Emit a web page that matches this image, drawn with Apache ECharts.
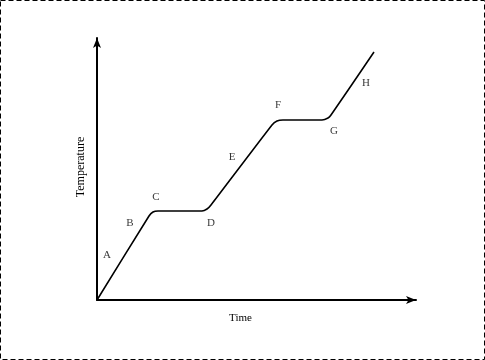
<!DOCTYPE html>
<html><head><meta charset="utf-8">
<script src="https://cdn.jsdelivr.net/npm/echarts@6/dist/echarts.min.js"></script>
<style>html,body{margin:0;padding:0;background:#fff}#c{width:485px;height:360px}</style>
</head><body><div id="c"></div>
<script>
// Heating curve: time vs temperature (arbitrary units)
var timeValues = [0, 52, 56, 61, 105, 110, 114, 175, 180, 186, 225, 231, 234, 277];
var tempValues = [0, 84, 88, 89, 89, 91, 95, 175, 179, 180, 180, 182, 185, 248];
var labelNames = ['A', 'B', 'C', 'D', 'E', 'F', 'G', 'H'];
var labelTime  = [10, 33, 59, 114, 135, 181, 237, 269];
var labelTemp  = [45, 77, 103, 77, 143, 195, 169, 217];
var xName = 'Time', yName = 'Temperature';

var chart = echarts.init(document.getElementById('c'), null, {renderer: 'canvas'});
var curve = timeValues.map(function (t, i) { return [t, tempValues[i]]; });
var labels = labelNames.map(function (n, i) { return {name: n, value: [labelTime[i], labelTemp[i]]}; });
var font = 'Liberation Serif';
chart.setOption({
  animation: false,
  backgroundColor: '#fff',
  graphic: [{type: 'rect', shape: {x: 0.5, y: 0.5, width: 484, height: 359},
    style: {fill: 'none', stroke: '#000', lineWidth: 1, lineDash: [5, 3]}}],
  grid: {left: 97, right: 69, top: 38, bottom: 60},
  xAxis: {type: 'value', min: 0, max: 319, name: xName, nameLocation: 'middle', nameGap: 13,
    nameTextStyle: {fontFamily: font, fontSize: 11, color: '#000', padding: [0, 32, 0, 0]},
    axisLine: {show: true, lineStyle: {color: '#000', width: 2}, symbol: ['none', 'arrow'], symbolSize: [6, 10]},
    axisTick: {show: false}, axisLabel: {show: false}, splitLine: {show: false}},
  yAxis: {type: 'value', min: 0, max: 262, name: yName, nameLocation: 'middle', nameGap: 10,
    nameTextStyle: {fontFamily: font, fontSize: 12, color: '#000', padding: [0, 0, 0, 4]},
    axisLine: {show: true, lineStyle: {color: '#000', width: 2}, symbol: ['none', 'arrow'], symbolSize: [6, 10]},
    axisTick: {show: false}, axisLabel: {show: false}, splitLine: {show: false}},
  series: [
    {type: 'line', data: curve, showSymbol: false, smooth: 0.2,
      lineStyle: {color: '#000', width: 1.6}},
    {type: 'scatter', data: labels, symbolSize: 0,
      label: {show: true, position: 'inside', formatter: '{b}', fontFamily: font, fontSize: 11, color: '#000'}}
  ]
});
</script></body></html>
